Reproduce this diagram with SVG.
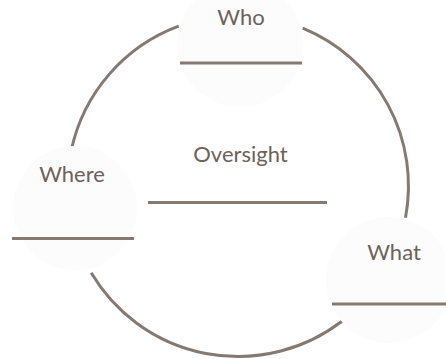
<svg xmlns="http://www.w3.org/2000/svg" width="446" height="359" viewBox="0 0 446 359">
<style>
.bg{fill:#fdfcfc;stroke:none}
.ring{fill:none;stroke:#857a72;stroke-width:3;stroke-linecap:butt}
.ul{stroke:#857a72;stroke-width:3}
.lbl{font-family:Lato,"Open Sans","Liberation Sans",sans-serif;font-size:22px;fill:#6e6159;text-anchor:middle}
</style>
<rect width="446" height="359" fill="#ffffff"/>
<g id="connectors">
<path class="ring" d="M71.3,150.1 A170.5,170.5 0 0 1 178.7,26.2"/>
<path class="ring" d="M302.7,28.2 A170.5,170.5 0 0 1 405.5,217.7"/>
<path class="ring" d="M342.2,321 A170.5,170.5 0 0 1 91.2,272.7"/>
</g>
<g id="who">
<circle class="bg" cx="240" cy="44" r="63"/>
<text class="lbl" x="241" y="25">Who</text>
<line class="ul" x1="180" y1="63" x2="302" y2="63"/>
</g>
<g id="where">
<circle class="bg" cx="75" cy="208" r="62"/>
<text class="lbl" x="72" y="182">Where</text>
<line class="ul" x1="12" y1="238.5" x2="134" y2="238.5"/>
</g>
<g id="what">
<circle class="bg" cx="389" cy="280" r="63"/>
<text class="lbl" x="394" y="260">What</text>
<line class="ul" x1="332" y1="304" x2="446" y2="304"/>
</g>
<g id="oversight">
<text class="lbl" x="240.5" y="162">Oversight</text>
<line class="ul" x1="148" y1="202.5" x2="327" y2="202.5"/>
</g>
</svg>
